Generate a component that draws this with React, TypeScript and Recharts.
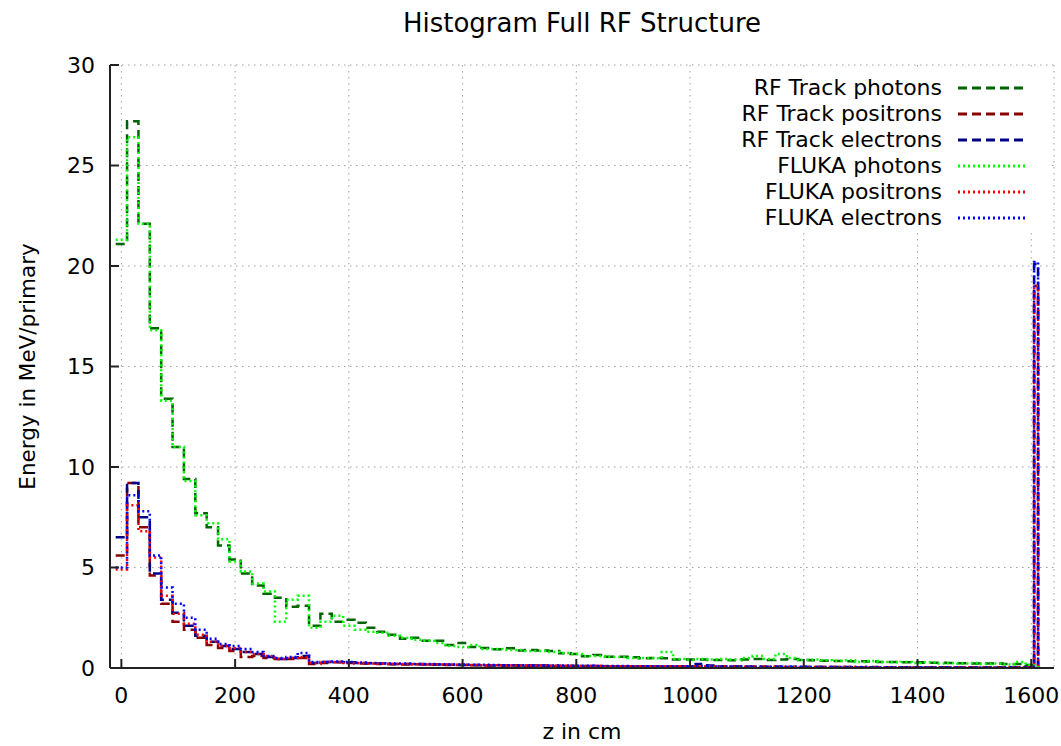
import React from 'react';
import { LineChart, Line, XAxis, YAxis, CartesianGrid, Legend } from 'recharts';

// lower edge of each histogram bin (cm); the last two are the narrow end bin and its closing edge
const binStart = [
  -10, 10, 30, 50, 70, 90, 110, 130, 150, 170, 190, 210, 230, 250, 270, 290, 310, 330, 350, 370,
  390, 410, 430, 450, 470, 490, 510, 530, 550, 570, 590, 610, 630, 650, 670, 690, 710, 730, 750, 770,
  790, 810, 830, 850, 870, 890, 910, 930, 950, 970, 990, 1010, 1030, 1050, 1070, 1090, 1110, 1130, 1150, 1170,
  1190, 1210, 1230, 1250, 1270, 1290, 1310, 1330, 1350, 1370, 1390, 1410, 1430, 1450, 1470, 1490, 1510, 1530, 1550, 1570,
  1590, 1605, 1612,
];

const rfPhotons = [
  21.1, 27.2, 22.1, 16.9, 13.4, 11.0, 9.4, 7.7, 7.0, 6.1,
  5.4, 4.7, 4.1, 3.7, 3.5, 3.05, 3.1, 2.1, 2.7, 2.3,
  2.4, 2.25, 2.0, 1.8, 1.65, 1.45, 1.5, 1.36, 1.35, 1.15,
  1.25, 1.05, 1.0, 0.93, 0.98, 0.87, 0.9, 0.87, 0.85, 0.73,
  0.7, 0.58, 0.65, 0.56, 0.56, 0.53, 0.48, 0.5, 0.48, 0.42,
  0.42, 0.42, 0.4, 0.4, 0.38, 0.42, 0.45, 0.4, 0.42, 0.45,
  0.4, 0.38, 0.36, 0.35, 0.34, 0.33, 0.32, 0.3, 0.3, 0.28,
  0.28, 0.26, 0.26, 0.25, 0.24, 0.23, 0.22, 0.22, 0.2, 0.2,
  0.15, 0.1, 0,
];

const rfPositrons = [
  5.6, 9.2, 7.0, 4.6, 3.2, 2.3, 1.9, 1.5, 1.15, 1.0,
  0.85, 0.55, 0.6, 0.5, 0.45, 0.45, 0.5, 0.2, 0.25, 0.28,
  0.25, 0.22, 0.22, 0.2, 0.19, 0.18, 0.19, 0.17, 0.16, 0.15,
  0.15, 0.14, 0.13, 0.14, 0.12, 0.12, 0.11, 0.12, 0.1, 0.1,
  0.1, 0.09, 0.1, 0.09, 0.08, 0.08, 0.09, 0.08, 0.07, 0.07,
  0.07, 0.08, 0.06, 0.07, 0.06, 0.06, 0.06, 0.05, 0.06, 0.05,
  0.05, 0.05, 0.05, 0.04, 0.05, 0.04, 0.04, 0.04, 0.04, 0.04,
  0.04, 0.03, 0.04, 0.03, 0.03, 0.03, 0.03, 0.03, 0.03, 0.03,
  0.03, 19.0, 0,
];

const rfElectrons = [
  6.5, 9.2, 7.5, 4.7, 3.4, 2.75, 2.1, 1.6, 1.3, 1.1,
  0.95, 0.8, 0.7, 0.55, 0.45, 0.5, 0.6, 0.25, 0.3, 0.3,
  0.28, 0.25, 0.24, 0.22, 0.2, 0.2, 0.2, 0.18, 0.17, 0.16,
  0.15, 0.15, 0.14, 0.13, 0.13, 0.12, 0.12, 0.11, 0.11, 0.1,
  0.1, 0.1, 0.09, 0.09, 0.09, 0.08, 0.08, 0.08, 0.08, 0.07,
  0.07, 0.2, 0.12, 0.07, 0.07, 0.06, 0.06, 0.06, 0.06, 0.05,
  0.05, 0.05, 0.05, 0.05, 0.04, 0.04, 0.05, 0.04, 0.04, 0.04,
  0.04, 0.04, 0.03, 0.04, 0.03, 0.03, 0.03, 0.03, 0.03, 0.03,
  0.03, 20.1, 0,
];

const flukaPhotons = [
  21.3, 26.4, 22.1, 16.8, 13.3, 11.0, 9.3, 7.6, 7.2, 6.4,
  5.3, 4.8, 4.2, 3.8, 2.3, 3.4, 3.6, 2.0, 2.3, 2.6,
  2.1, 1.9, 1.8, 1.75, 1.6, 1.5, 1.4, 1.35, 1.25, 1.1,
  1.05, 1.15, 0.95, 0.95, 0.9, 0.9, 0.85, 0.85, 0.8, 0.75,
  0.7, 0.6, 0.6, 0.55, 0.55, 0.5, 0.5, 0.48, 0.8, 0.45,
  0.4, 0.45, 0.42, 0.45, 0.42, 0.5, 0.6, 0.45, 0.7, 0.5,
  0.4, 0.42, 0.38, 0.36, 0.38, 0.3, 0.35, 0.3, 0.28, 0.3,
  0.25, 0.28, 0.22, 0.25, 0.22, 0.25, 0.2, 0.22, 0.18, 0.3,
  0.15, 0.1, 0,
];

const flukaPositrons = [
  4.9, 8.1, 6.8, 5.5, 3.6, 2.7, 2.2, 1.65, 1.3, 1.1,
  1.0, 0.8, 0.7, 0.6, 0.45, 0.5, 0.55, 0.25, 0.3, 0.3,
  0.25, 0.25, 0.23, 0.21, 0.2, 0.2, 0.19, 0.18, 0.17, 0.16,
  0.16, 0.15, 0.14, 0.14, 0.13, 0.12, 0.12, 0.12, 0.11, 0.11,
  0.1, 0.1, 0.1, 0.09, 0.09, 0.09, 0.08, 0.08, 0.08, 0.08,
  0.07, 0.07, 0.07, 0.07, 0.06, 0.06, 0.06, 0.06, 0.06, 0.05,
  0.05, 0.05, 0.05, 0.05, 0.05, 0.04, 0.04, 0.04, 0.04, 0.04,
  0.04, 0.04, 0.04, 0.03, 0.04, 0.03, 0.03, 0.03, 0.03, 0.04,
  0.03, 19.0, 0,
];

const flukaElectrons = [
  5.0, 8.6, 7.8, 5.6, 4.0, 3.2, 2.5, 1.9, 1.45, 1.2,
  1.1, 0.95, 0.8, 0.6, 0.5, 0.55, 0.75, 0.3, 0.3, 0.32,
  0.3, 0.27, 0.25, 0.24, 0.22, 0.22, 0.2, 0.2, 0.19, 0.18,
  0.17, 0.16, 0.16, 0.15, 0.14, 0.14, 0.13, 0.13, 0.12, 0.12,
  0.11, 0.11, 0.1, 0.1, 0.1, 0.09, 0.09, 0.09, 0.08, 0.08,
  0.08, 0.1, 0.08, 0.07, 0.07, 0.07, 0.06, 0.06, 0.06, 0.06,
  0.06, 0.05, 0.05, 0.05, 0.05, 0.05, 0.04, 0.04, 0.04, 0.04,
  0.04, 0.04, 0.04, 0.04, 0.03, 0.03, 0.03, 0.03, 0.04, 0.03,
  0.03, 20.2, 0,
];

const xTicks = [0, 200, 400, 600, 800, 1000, 1200, 1400, 1600];
const yTicks = [0, 5, 10, 15, 20, 25, 30];

const series = [
  { key: 'rfPhot', name: 'RF Track photons', values: rfPhotons, color: '#006400', dash: '9 5' },
  { key: 'rfPos', name: 'RF Track positrons', values: rfPositrons, color: '#8b0000', dash: '9 5' },
  { key: 'rfEle', name: 'RF Track electrons', values: rfElectrons, color: '#00008b', dash: '9 5' },
  { key: 'flPhot', name: 'FLUKA photons', values: flukaPhotons, color: '#00ff00', dash: '2 3' },
  { key: 'flPos', name: 'FLUKA positrons', values: flukaPositrons, color: '#ff0000', dash: '2 3' },
  { key: 'flEle', name: 'FLUKA electrons', values: flukaElectrons, color: '#0000ff', dash: '2 3' },
];

const data = binStart.map((x, i) => {
  const row: Record<string, number> = { x };
  series.forEach((s) => { row[s.key] = s.values[i]; });
  return row;
});

const font = '"DejaVu Sans", Verdana, sans-serif';
const tickStyle = { fontSize: 22, fill: '#000', fontFamily: font };

const KeyBox = () => (
  <div style={{ position: 'relative', width: 358, height: 164, background: '#fff', fontFamily: font, fontSize: 22, color: '#000' }}>
    {series.map((s, i) => (
      <div key={s.key} style={{ position: 'absolute', left: 0, top: 7 + i * 26, width: 358, height: 26 }}>
        <span style={{ position: 'absolute', right: 108, top: 0, lineHeight: '26px', whiteSpace: 'nowrap' }}>{s.name}</span>
        <svg style={{ position: 'absolute', left: 266, top: 0 }} width={70} height={26}>
          <line x1={0} x2={68} y1={13} y2={13} stroke={s.color} strokeWidth={3} strokeDasharray={s.dash} />
        </svg>
      </div>
    ))}
  </div>
);

export default function App() {
  return (
    <div style={{ position: 'fixed', left: 0, top: 0, width: 1061, height: 746, background: '#fff' }}>
      <div style={{ position: 'absolute', left: 282, top: 8, width: 600, textAlign: 'center', fontFamily: font, fontSize: 26, lineHeight: '30px', color: '#000' }}>
        Histogram Full RF Structure
      </div>
      <LineChart width={1061} height={746} data={data} margin={{ top: 65, right: 7, bottom: 48, left: 10 }}>
        <CartesianGrid xAxisId="b" yAxisId="l" stroke="#a0a0a0" strokeDasharray="1.5 4.5" />
        <XAxis xAxisId="b" dataKey="x" type="number" domain={[-20, 1640]} ticks={xTicks} height={30}
          tickSize={-9} tickMargin={28} tick={tickStyle} interval={0}
          axisLine={{ stroke: '#222', strokeWidth: 2 }} tickLine={{ stroke: '#222', strokeWidth: 2 }}
          label={{ value: 'z in cm', position: 'bottom', offset: 25, style: { fontSize: 22, fill: '#000', fontFamily: font } }} />
        <XAxis xAxisId="t" orientation="top" dataKey="x" type="number" domain={[-20, 1640]} ticks={xTicks} height={0}
          tickSize={-9} tick={false} interval={0}
          axisLine={{ stroke: '#222', strokeWidth: 2 }} tickLine={{ stroke: '#222', strokeWidth: 2 }} />
        <YAxis yAxisId="l" type="number" domain={[0, 30]} ticks={yTicks} width={100} interval={0}
          tickSize={-9} tickMargin={24} tick={tickStyle}
          axisLine={{ stroke: '#222', strokeWidth: 2 }} tickLine={{ stroke: '#222', strokeWidth: 2 }}
          label={{ value: 'Energy in MeV/primary', angle: -90, position: 'insideLeft', offset: 17, style: { textAnchor: 'middle', fontSize: 21.5, fill: '#000', fontFamily: font } }} />
        <YAxis yAxisId="r" orientation="right" type="number" domain={[0, 30]} ticks={yTicks} width={0} interval={0}
          tickSize={-9} tick={false}
          axisLine={{ stroke: '#222', strokeWidth: 2 }} tickLine={{ stroke: '#222', strokeWidth: 2 }} />
        {series.map((s) => (
          <Line key={s.key} xAxisId="b" yAxisId="l" type="stepAfter" dataKey={s.key} name={s.name}
            stroke={s.color} strokeWidth={2.5} strokeDasharray={s.dash} dot={false} activeDot={false}
            isAnimationActive={false} />
        ))}
        <Legend layout="vertical" align="center" verticalAlign="middle" content={() => <KeyBox />}
          wrapperStyle={{ position: 'absolute', left: 692, top: 68, width: 358, height: 164 }} />
      </LineChart>
    </div>
  );
}
